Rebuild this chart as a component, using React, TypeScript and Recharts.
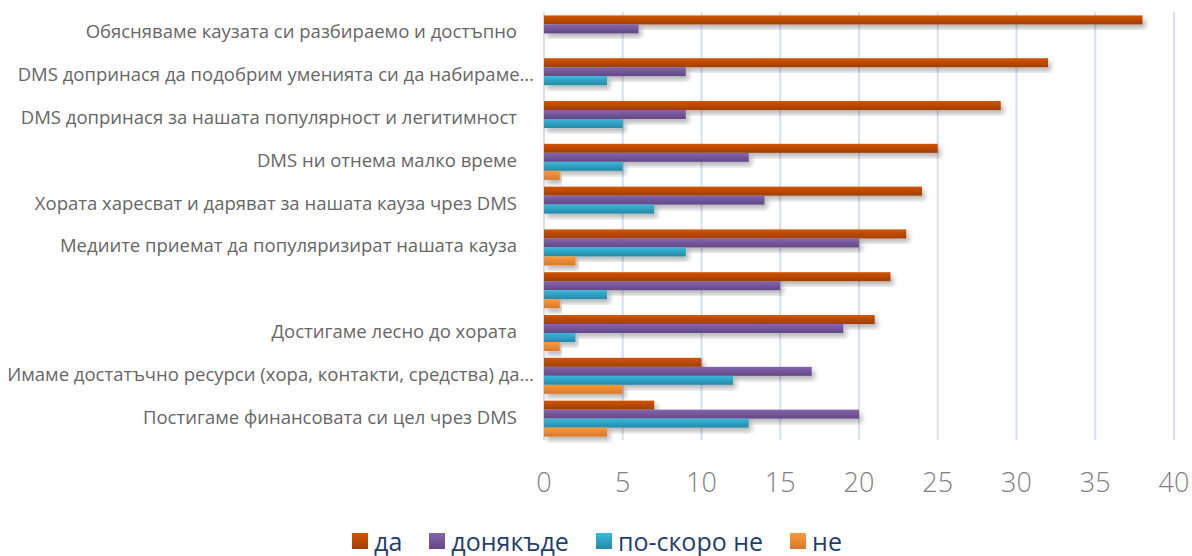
import React from 'react';
import { BarChart, Bar, XAxis, YAxis, CartesianGrid, Legend } from 'recharts';

const categories = [
  'Обясняваме каузата си разбираемо и достъпно',
  'DMS допринася да подобрим уменията си да набираме…',
  'DMS допринася за нашата популярност и легитимност',
  'DMS ни отнема малко време',
  'Хората харесват и даряват за нашата кауза чрез  DMS',
  'Медиите приемат да популяризират нашата кауза',
  '',
  'Достигаме лесно до хората',
  'Имаме достатъчно ресурси (хора, контакти, средства) да…',
  'Постигаме финансовата си цел чрез DMS',
];

const da = [38, 32, 29, 25, 24, 23, 22, 21, 10, 7];
const donyakade = [6, 9, 9, 13, 14, 20, 15, 19, 17, 20];
const poSkoroNe = [0, 4, 5, 5, 7, 9, 4, 2, 12, 13];
const ne = [0, 0, 0, 1, 0, 2, 1, 1, 5, 4];

const xTicks = [0, 5, 10, 15, 20, 25, 30, 35, 40];

const series = [
  { key: 'da', name: 'да', top: '#D25400', bottom: '#A03E00' },
  { key: 'donyakade', name: 'донякъде', top: '#8466AC', bottom: '#634786' },
  { key: 'poSkoroNe', name: 'по-скоро не', top: '#38B8DC', bottom: '#2789A6' },
  { key: 'ne', name: 'не', top: '#FB9A3A', bottom: '#D8782A' },
];

const data = categories.map((c, i) => ({
  id: i,
  label: c,
  da: da[i],
  donyakade: donyakade[i],
  poSkoroNe: poSkoroNe[i],
  ne: ne[i],
}));

const makeShape = (key: string) => (props: any) => {
  const { x, y, width, height } = props;
  if (!width || width <= 0) return <g />;
  return (
    <rect
      x={x}
      y={y}
      width={width}
      height={height}
      fill={`url(#grad-${key})`}
      filter="url(#barShadow)"
    />
  );
};

// truncated labels (ending with …) sit a bit further right, like in Excel
const YTick = (props: any) => {
  const { x, y, payload } = props;
  const label = categories[payload.value] ?? '';
  const shift = label.endsWith('…') ? 17 : 0;
  return (
    <text
      x={x + shift}
      y={y}
      dy={5}
      textAnchor="end"
      fill="#666666"
      fontSize={18.5}
      fontFamily="'Open Sans', sans-serif"
    >
      {label}
    </text>
  );
};

const LegendContent = () => (
  <div
    style={{
      display: 'flex',
      justifyContent: 'center',
      gap: 27,
      fontFamily: "'Open Sans', sans-serif",
      fontSize: 25,
      lineHeight: '30px',
      color: '#1F3F6E',
      paddingLeft: 20,
    }}
  >
    {series.map((s) => (
      <div key={s.key} style={{ display: 'flex', alignItems: 'center', gap: 6 }}>
        <span
          style={{
            width: 16,
            height: 16,
            display: 'inline-block',
            background: `linear-gradient(${s.top}, ${s.bottom})`,
          }}
        />
        <span>{s.name}</span>
      </div>
    ))}
  </div>
);

export default function App() {
  return (
    <div style={{ position: 'absolute', left: 0, top: 0, background: '#fff' }}>
      <BarChart
        width={1192}
        height={556}
        data={data}
        layout="vertical"
        margin={{ top: 12, right: 18, bottom: 0, left: 0 }}
        barCategoryGap="8%"
        barGap={0}
      >
        <defs>
          {series.map((s) => (
            <linearGradient key={s.key} id={`grad-${s.key}`} x1="0" y1="0" x2="0" y2="1">
              <stop offset="0%" stopColor={s.top} />
              <stop offset="100%" stopColor={s.bottom} />
            </linearGradient>
          ))}
          <filter id="barShadow" x="-5%" y="-30%" width="115%" height="190%">
            <feDropShadow dx="3" dy="4" stdDeviation="2.5" floodColor="#000" floodOpacity="0.28" />
          </filter>
        </defs>
        <CartesianGrid horizontal={false} stroke="#D5DFEE" strokeWidth={2} />
        <XAxis
          type="number"
          domain={[0, 40]}
          ticks={xTicks}
          axisLine={false}
          tickLine={false}
          tickSize={0}
          tickMargin={33}
          height={86}
          tick={{ fill: '#7F7F7F', fontSize: 27, fontFamily: "'Open Sans', sans-serif", fontWeight: 300 }}
        />
        <YAxis
          type="category"
          dataKey="id"
          width={544}
          axisLine={false}
          tickLine={false}
          tickMargin={21}
          interval={0}
          tick={<YTick />}
        />
        {series.map((s) => (
          <Bar
            key={s.key}
            dataKey={s.key}
            name={s.name}
            fill={s.top}
            shape={makeShape(s.key)}
            isAnimationActive={false}
          />
        ))}
        <Legend verticalAlign="bottom" content={<LegendContent />} />
      </BarChart>
    </div>
  );
}
